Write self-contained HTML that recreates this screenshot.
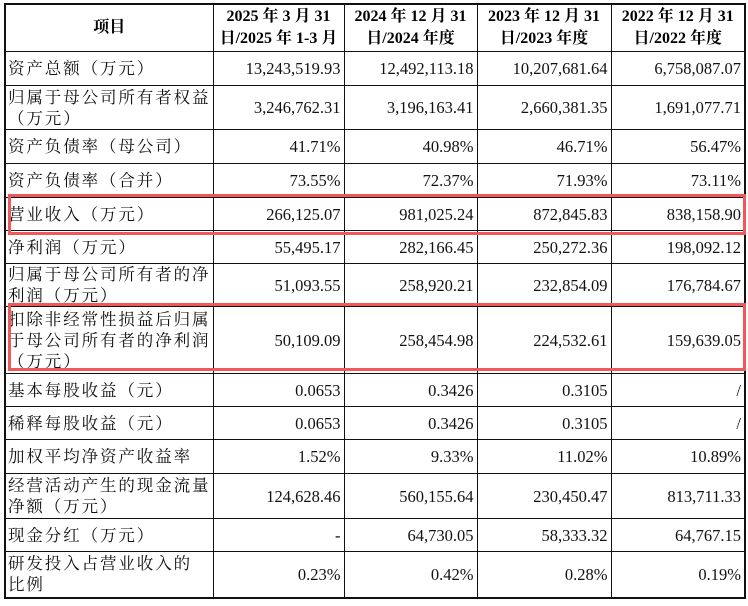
<!DOCTYPE html>
<html><head><meta charset="utf-8"><style>
html,body{margin:0;padding:0;background:#fff;width:748px;height:606px;overflow:hidden}
table{position:absolute;left:4px;top:3px;border-collapse:collapse;table-layout:fixed;width:740px}
td{border:1px solid #111;padding:0 3px 0 3px;font-family:"Liberation Serif","Noto Serif CJK SC",serif;font-size:16.5px;color:#111;line-height:21px;vertical-align:middle;overflow:hidden}
td.l{text-align:left;font-size:16.5px;letter-spacing:1.9px;padding-left:2px;padding-right:0}
td.n{text-align:right}
th{border:1px solid #111;font-family:"Liberation Serif","Noto Serif CJK SC",serif;font-size:16px;font-weight:bold;line-height:22px;text-align:center}
table{border:2px solid #111}
.box{position:absolute;left:8px;width:738px;border:3px solid #f0585a;box-sizing:border-box}
</style></head><body>
<table>
<colgroup><col style="width:208px"><col style="width:131px"><col style="width:133px"><col style="width:134px"><col style="width:134px"></colgroup>
<tr style="height:47px"><th>项目</th><th>2025 年 3 月 31<br>日/2025 年 1-3 月</th><th>2024 年 12 月 31<br>日/2024 年度</th><th>2023 年 12 月 31<br>日/2023 年度</th><th>2022 年 12 月 31<br>日/2022 年度</th></tr>
<tr style="height:34px"><td class="l">资产总额（万元）</td><td class="n">13,243,519.93</td><td class="n">12,492,113.18</td><td class="n">10,207,681.64</td><td class="n">6,758,087.07</td></tr>
<tr style="height:44px"><td class="l">归属于母公司所有者权益（万元）</td><td class="n">3,246,762.31</td><td class="n">3,196,163.41</td><td class="n">2,660,381.35</td><td class="n">1,691,077.71</td></tr>
<tr style="height:34px"><td class="l">资产负债率（母公司）</td><td class="n">41.71%</td><td class="n">40.98%</td><td class="n">46.71%</td><td class="n">56.47%</td></tr>
<tr style="height:34px"><td class="l">资产负债率（合并）</td><td class="n">73.55%</td><td class="n">72.37%</td><td class="n">71.93%</td><td class="n">73.11%</td></tr>
<tr style="height:33px"><td class="l">营业收入（万元）</td><td class="n">266,125.07</td><td class="n">981,025.24</td><td class="n">872,845.83</td><td class="n">838,158.90</td></tr>
<tr style="height:33px"><td class="l">净利润（万元）</td><td class="n">55,495.17</td><td class="n">282,166.45</td><td class="n">250,272.36</td><td class="n">198,092.12</td></tr>
<tr style="height:43px"><td class="l">归属于母公司所有者的净利润（万元）</td><td class="n">51,093.55</td><td class="n">258,920.21</td><td class="n">232,854.09</td><td class="n">176,784.67</td></tr>
<tr style="height:67px"><td class="l">扣除非经常性损益后归属于母公司所有者的净利润（万元）</td><td class="n">50,109.09</td><td class="n">258,454.98</td><td class="n">224,532.61</td><td class="n">159,639.05</td></tr>
<tr style="height:33px"><td class="l">基本每股收益（元）</td><td class="n">0.0653</td><td class="n">0.3426</td><td class="n">0.3105</td><td class="n">/</td></tr>
<tr style="height:33px"><td class="l">稀释每股收益（元）</td><td class="n">0.0653</td><td class="n">0.3426</td><td class="n">0.3105</td><td class="n">/</td></tr>
<tr style="height:34px"><td class="l">加权平均净资产收益率</td><td class="n">1.52%</td><td class="n">9.33%</td><td class="n">11.02%</td><td class="n">10.89%</td></tr>
<tr style="height:45px"><td class="l">经营活动产生的现金流量净额（万元）</td><td class="n">124,628.46</td><td class="n">560,155.64</td><td class="n">230,450.47</td><td class="n">813,711.33</td></tr>
<tr style="height:33px"><td class="l">现金分红（万元）</td><td class="n">-</td><td class="n">64,730.05</td><td class="n">58,333.32</td><td class="n">64,767.15</td></tr>
<tr style="height:46px"><td class="l">研发投入占营业收入的<br>比例</td><td class="n">0.23%</td><td class="n">0.42%</td><td class="n">0.28%</td><td class="n">0.19%</td></tr>
</table>
<div class="box" style="top:194px;height:41px"></div>
<div class="box" style="top:303px;height:68px"></div>
</body></html>
